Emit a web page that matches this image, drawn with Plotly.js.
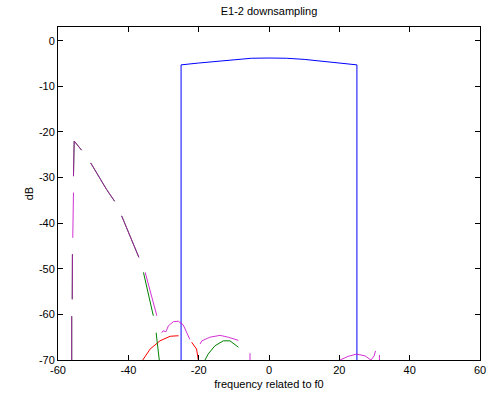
<!DOCTYPE html>
<html>
<head>
<meta charset="utf-8">
<script src="https://cdn.plot.ly/plotly-3.0.1.min.js"></script>
<style>html,body{margin:0;padding:0;background:#fff}#chart{width:491px;height:403px}</style>
</head>
<body>
<div id="chart"></div>
<script>
// Blue passband
var blueX = [-25, -25, -20, -15, -10, -5, 0, 5, 10, 15, 20, 25, 25];
var blueY = [-70, -5.3, -4.9, -4.5, -4.1, -3.85, -3.8, -3.85, -4.1, -4.5, -4.9, -5.3, -70];

// Red alias component
var redX = [-35.9, -33.8, -31.0, -28.1, -26.2, -25.7, null, -22.0, -20.6, -20.1];
var redY = [-70, -67.6, -65.8, -64.8, -64.7, -64.7, null, -66.1, -67.6, -70];

// Green alias component
var greenX = [-55.6, -55.4, -53.3, null, -55.9, -55.95, null, -56.1, -56.1, null,
  -50.7, -46.2, -43.9, null, -41.9, -39.5, -37.0, null, -35.7, -34.3, -32.9, null,
  -32.1, -31.2, null, -18.2, -17.3, -15.4, -13.0, -11.1, -8.7];
var greenY = [-29.7, -22.0, -24.0, null, -46.8, -56.7, null, -60.4, -70, null,
  -26.8, -32.6, -35.2, null, -38.4, -42.8, -47.5, null, -50.8, -55.5, -60.3, null,
  -64.0, -70, null, -70, -68.7, -66.9, -65.8, -65.8, -67.2];

// Magenta alias component
var magentaX = [-55.6, -55.4, -53.3, null, -55.6, -55.8, null, -55.9, -55.95, null, -56.1, -56.1, null,
  -50.7, -46.2, -43.9, null, -41.9, -39.5, -37.0, null, -35.2, -33.5, -31.9, null,
  -30.5, -30.1, -29.3, -28.6, -27.2, -25.8, -24.4, -23.3, -22.5, null,
  -19.6, -19.1, -16.8, -13.9, -11.6, -8.7, null, -5.4, -5.4, null,
  20.2, 22.5, 24.9, 27.3, 29.0, 29.9, 30.3, null, 31.4, 31.4];
var magentaY = [-29.7, -22.0, -24.0, null, -33.3, -43.2, null, -46.8, -56.7, null, -60.4, -70, null,
  -26.8, -32.6, -35.2, null, -38.4, -42.8, -47.5, null, -50.8, -55.6, -60.3, null,
  -64.0, -63.6, -63.8, -62.5, -61.6, -61.5, -62.3, -64.0, -65.5, null,
  -66.5, -65.8, -65.0, -64.6, -65.0, -65.7, null, -68.5, -70, null,
  -70, -69.2, -68.7, -69.1, -70, -69.1, -68.0, null, -68.9, -70];

var xTicks = [-60, -40, -20, 0, 20, 40, 60];
var yTicks = [0, -10, -20, -30, -40, -50, -60, -70];

var lineW = 1;
var traces = [
  {x: blueX, y: blueY, mode: 'lines', line: {color: '#0000ff', width: lineW}, connectgaps: false},
  {x: redX, y: redY, mode: 'lines', line: {color: '#ff0000', width: lineW}, connectgaps: false},
  {x: greenX, y: greenY, mode: 'lines', line: {color: '#008000', width: lineW}, connectgaps: false},
  {x: magentaX, y: magentaY, mode: 'lines', line: {color: '#c800c8', width: lineW}, opacity: 0.8, connectgaps: false}
];

var font = {family: 'Liberation Sans, Arial, sans-serif', size: 11, color: '#000'};
var layout = {
  width: 491, height: 403,
  margin: {l: 58, r: 11, t: 27, b: 43},
  paper_bgcolor: '#fff', plot_bgcolor: '#fff',
  showlegend: false,
  font: font,
  title: {text: 'E1-2 downsampling', font: {family: font.family, size: 11, color: '#000'}, x: 0.5, xanchor: 'center', y: 0.972, yanchor: 'middle', xref: 'paper'},
  xaxis: {
    range: [-60, 60], tickvals: xTicks, ticktext: xTicks.map(String),
    ticks: 'inside', ticklen: 5, tickcolor: '#000', mirror: 'ticks',
    showline: true, linecolor: '#000', linewidth: 1, showgrid: false, zeroline: false,
    tickfont: font,
    title: {text: 'frequency related to f0', font: font, standoff: 5}
  },
  yaxis: {
    range: [-70, 3], tickvals: yTicks, ticktext: yTicks.map(String),
    ticks: 'inside', ticklen: 5, tickcolor: '#000', mirror: 'ticks',
    showline: true, linecolor: '#000', linewidth: 1, showgrid: false, zeroline: false,
    tickfont: font,
    title: {text: 'dB', font: font, standoff: 3}
  }
};
Plotly.newPlot('chart', traces, layout, {displayModeBar: false, staticPlot: true});
</script>
</body>
</html>
